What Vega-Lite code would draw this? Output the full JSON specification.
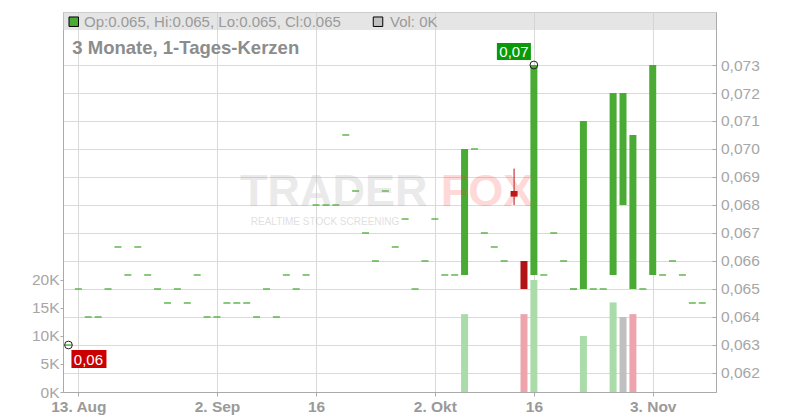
{
  "$schema": "https://vega.github.io/schema/vega-lite/v6.json",
  "width": 653,
  "height": 380,
  "autosize": {"type": "none"},
  "padding": {"left": 63, "top": 12, "right": 84, "bottom": 28},
  "background": "#ffffff",
  "config": {"view": {"stroke": "#c8c8c8"}, "font": "Liberation Sans", "scale": {"continuousPadding": 0}},
  "datasets": {
    "candles": [
      {"d":"2025-08-12","i":0,"o":0.063,"h":0.063,"l":0.063,"c":0.063,"v":0},
      {"d":"2025-08-13","i":1,"o":0.065,"h":0.065,"l":0.065,"c":0.065,"v":0},
      {"d":"2025-08-14","i":2,"o":0.064,"h":0.064,"l":0.064,"c":0.064,"v":0},
      {"d":"2025-08-15","i":3,"o":0.064,"h":0.064,"l":0.064,"c":0.064,"v":0},
      {"d":"2025-08-18","i":4,"o":0.065,"h":0.065,"l":0.065,"c":0.065,"v":0},
      {"d":"2025-08-19","i":5,"o":0.0665,"h":0.0665,"l":0.0665,"c":0.0665,"v":0},
      {"d":"2025-08-20","i":6,"o":0.0655,"h":0.0655,"l":0.0655,"c":0.0655,"v":0},
      {"d":"2025-08-21","i":7,"o":0.0665,"h":0.0665,"l":0.0665,"c":0.0665,"v":0},
      {"d":"2025-08-22","i":8,"o":0.0655,"h":0.0655,"l":0.0655,"c":0.0655,"v":0},
      {"d":"2025-08-25","i":9,"o":0.065,"h":0.065,"l":0.065,"c":0.065,"v":0},
      {"d":"2025-08-26","i":10,"o":0.0645,"h":0.0645,"l":0.0645,"c":0.0645,"v":0},
      {"d":"2025-08-27","i":11,"o":0.065,"h":0.065,"l":0.065,"c":0.065,"v":0},
      {"d":"2025-08-28","i":12,"o":0.0645,"h":0.0645,"l":0.0645,"c":0.0645,"v":0},
      {"d":"2025-08-29","i":13,"o":0.0655,"h":0.0655,"l":0.0655,"c":0.0655,"v":0},
      {"d":"2025-09-01","i":14,"o":0.064,"h":0.064,"l":0.064,"c":0.064,"v":0},
      {"d":"2025-09-02","i":15,"o":0.064,"h":0.064,"l":0.064,"c":0.064,"v":0},
      {"d":"2025-09-03","i":16,"o":0.0645,"h":0.0645,"l":0.0645,"c":0.0645,"v":0},
      {"d":"2025-09-04","i":17,"o":0.0645,"h":0.0645,"l":0.0645,"c":0.0645,"v":0},
      {"d":"2025-09-05","i":18,"o":0.0645,"h":0.0645,"l":0.0645,"c":0.0645,"v":0},
      {"d":"2025-09-08","i":19,"o":0.064,"h":0.064,"l":0.064,"c":0.064,"v":0},
      {"d":"2025-09-09","i":20,"o":0.065,"h":0.065,"l":0.065,"c":0.065,"v":0},
      {"d":"2025-09-10","i":21,"o":0.064,"h":0.064,"l":0.064,"c":0.064,"v":0},
      {"d":"2025-09-11","i":22,"o":0.0655,"h":0.0655,"l":0.0655,"c":0.0655,"v":0},
      {"d":"2025-09-12","i":23,"o":0.065,"h":0.065,"l":0.065,"c":0.065,"v":0},
      {"d":"2025-09-15","i":24,"o":0.0655,"h":0.0655,"l":0.0655,"c":0.0655,"v":0},
      {"d":"2025-09-16","i":25,"o":0.068,"h":0.068,"l":0.068,"c":0.068,"v":0},
      {"d":"2025-09-17","i":26,"o":0.068,"h":0.068,"l":0.068,"c":0.068,"v":0},
      {"d":"2025-09-18","i":27,"o":0.068,"h":0.068,"l":0.068,"c":0.068,"v":0},
      {"d":"2025-09-19","i":28,"o":0.0705,"h":0.0705,"l":0.0705,"c":0.0705,"v":0},
      {"d":"2025-09-22","i":29,"o":0.0685,"h":0.0685,"l":0.0685,"c":0.0685,"v":0},
      {"d":"2025-09-23","i":30,"o":0.067,"h":0.067,"l":0.067,"c":0.067,"v":0},
      {"d":"2025-09-24","i":31,"o":0.066,"h":0.066,"l":0.066,"c":0.066,"v":0},
      {"d":"2025-09-25","i":32,"o":0.0685,"h":0.0685,"l":0.0685,"c":0.0685,"v":0},
      {"d":"2025-09-26","i":33,"o":0.0665,"h":0.0665,"l":0.0665,"c":0.0665,"v":0},
      {"d":"2025-09-29","i":34,"o":0.0675,"h":0.0675,"l":0.0675,"c":0.0675,"v":0},
      {"d":"2025-09-30","i":35,"o":0.065,"h":0.065,"l":0.065,"c":0.065,"v":0},
      {"d":"2025-10-01","i":36,"o":0.066,"h":0.066,"l":0.066,"c":0.066,"v":0},
      {"d":"2025-10-02","i":37,"o":0.0675,"h":0.0675,"l":0.0675,"c":0.0675,"v":0},
      {"d":"2025-10-03","i":38,"o":0.0655,"h":0.0655,"l":0.0655,"c":0.0655,"v":0},
      {"d":"2025-10-06","i":39,"o":0.0655,"h":0.0655,"l":0.0655,"c":0.0655,"v":0},
      {"d":"2025-10-07","i":40,"o":0.0655,"h":0.07,"l":0.0655,"c":0.07,"v":13900},
      {"d":"2025-10-08","i":41,"o":0.07,"h":0.07,"l":0.07,"c":0.07,"v":0},
      {"d":"2025-10-09","i":42,"o":0.067,"h":0.067,"l":0.067,"c":0.067,"v":0},
      {"d":"2025-10-10","i":43,"o":0.0665,"h":0.0665,"l":0.0665,"c":0.0665,"v":0},
      {"d":"2025-10-13","i":44,"o":0.066,"h":0.066,"l":0.066,"c":0.066,"v":0},
      {"d":"2025-10-14","i":45,"o":0.0685,"h":0.0693,"l":0.068,"c":0.0683,"v":0},
      {"d":"2025-10-15","i":46,"o":0.066,"h":0.066,"l":0.065,"c":0.065,"v":13900},
      {"d":"2025-10-16","i":47,"o":0.0655,"h":0.073,"l":0.0655,"c":0.073,"v":20000},
      {"d":"2025-10-17","i":48,"o":0.0655,"h":0.0655,"l":0.0655,"c":0.0655,"v":0},
      {"d":"2025-10-20","i":49,"o":0.067,"h":0.067,"l":0.067,"c":0.067,"v":0},
      {"d":"2025-10-21","i":50,"o":0.066,"h":0.066,"l":0.066,"c":0.066,"v":0},
      {"d":"2025-10-22","i":51,"o":0.065,"h":0.065,"l":0.065,"c":0.065,"v":0},
      {"d":"2025-10-23","i":52,"o":0.065,"h":0.071,"l":0.065,"c":0.071,"v":10000},
      {"d":"2025-10-24","i":53,"o":0.065,"h":0.065,"l":0.065,"c":0.065,"v":0},
      {"d":"2025-10-27","i":54,"o":0.065,"h":0.065,"l":0.065,"c":0.065,"v":0},
      {"d":"2025-10-28","i":55,"o":0.0655,"h":0.072,"l":0.0655,"c":0.072,"v":16000},
      {"d":"2025-10-29","i":56,"o":0.068,"h":0.072,"l":0.068,"c":0.072,"v":13400},
      {"d":"2025-10-30","i":57,"o":0.065,"h":0.0705,"l":0.065,"c":0.0705,"v":13900},
      {"d":"2025-10-31","i":58,"o":0.065,"h":0.065,"l":0.065,"c":0.065,"v":0},
      {"d":"2025-11-03","i":59,"o":0.0655,"h":0.073,"l":0.0655,"c":0.073,"v":0},
      {"d":"2025-11-04","i":60,"o":0.0655,"h":0.0655,"l":0.0655,"c":0.0655,"v":0},
      {"d":"2025-11-05","i":61,"o":0.066,"h":0.066,"l":0.066,"c":0.066,"v":0},
      {"d":"2025-11-06","i":62,"o":0.0655,"h":0.0655,"l":0.0655,"c":0.0655,"v":0},
      {"d":"2025-11-07","i":63,"o":0.0645,"h":0.0645,"l":0.0645,"c":0.0645,"v":0},
      {"d":"2025-11-10","i":64,"o":0.0645,"h":0.0645,"l":0.0645,"c":0.0645,"v":0}
    ],
    "extremes": [
      {"i":47,"p":0.073,"t":"0,07","k":"max"},
      {"i":0,"p":0.063,"t":"0,06","k":"min"}
    ]
  },
  "data": {"name": "candles"},
  "layer": [
    {
      "transform": [
        {"window": [{"op": "lag", "field": "c", "as": "pc"}], "sort": [{"field": "i"}]},
        {"filter": "datum.v > 0"}
      ],
      "mark": {"type": "bar", "orient": "vertical", "size": 7},
      "encoding": {
        "x": {"field": "i", "type": "quantitative", "scale": {"domain": [-0.55, 65.39], "nice": false, "zero": false, "padding": 0},
          "axis": {"values": [1, 15, 25, 37, 47, 59],
            "labelExpr": "datum.value == 1 ? '13. Aug' : datum.value == 15 ? '2. Sep' : datum.value == 25 ? '16' : datum.value == 37 ? '2. Okt' : datum.value == 47 ? '16' : '3. Nov'",
            "grid": true, "gridColor": "#dadada", "domainColor": "#aaaaaa", "tickColor": "#aaaaaa", "tickSize": 4,
            "labelFont": "Liberation Sans", "labelFontSize": 15.5, "labelFontWeight": "bold", "labelColor": "#9a9a9a",
            "labelPadding": 3, "labelFlush": false, "labelOverlap": false, "title": null}},
        "y": {"field": "v", "type": "quantitative", "scale": {"domain": [0, 67857], "nice": false, "padding": 0},
          "axis": {"orient": "left", "values": [0, 5000, 10000, 15000, 20000],
            "labelExpr": "format(datum.value / 1000, 'd') + 'K'",
            "grid": false, "domainColor": "#aaaaaa", "tickColor": "#aaaaaa", "tickSize": 3,
            "labelFont": "Liberation Sans", "labelFontSize": 15.5, "labelColor": "#a6a6a6",
            "labelPadding": 1, "labelFlush": false, "labelOverlap": false, "title": null}},
        "color": {"condition": [{"test": "datum.c > datum.pc", "value": "#aadcaa"}, {"test": "datum.c < datum.pc", "value": "#eea4ac"}], "value": "#c0c0c0"}
      }
    },
    {
      "encoding": {
        "x": {"field": "i", "type": "quantitative", "scale": {"domain": [-0.55, 65.39], "nice": false, "zero": false, "padding": 0},
          "axis": {"values": [1, 15, 25, 37, 47, 59],
            "labelExpr": "datum.value == 1 ? '13. Aug' : datum.value == 15 ? '2. Sep' : datum.value == 25 ? '16' : datum.value == 37 ? '2. Okt' : datum.value == 47 ? '16' : '3. Nov'",
            "grid": true, "gridColor": "#dadada", "domainColor": "#aaaaaa", "tickColor": "#aaaaaa", "tickSize": 4,
            "labelFont": "Liberation Sans", "labelFontSize": 15.5, "labelFontWeight": "bold", "labelColor": "#9a9a9a",
            "labelPadding": 3, "labelFlush": false, "labelOverlap": false, "title": null}}
      },
      "layer": [
        {
          "transform": [{"filter": "datum.o != datum.c"}],
          "mark": {"type": "bar", "orient": "vertical", "size": 7},
          "encoding": {
            "y": {"field": "o", "type": "quantitative", "scale": {"domain": [0.061321, 0.074893], "nice": false, "zero": false, "padding": 0},
              "axis": {"orient": "right", "values": [0.062, 0.063, 0.064, 0.065, 0.066, 0.067, 0.068, 0.069, 0.07, 0.071, 0.072, 0.073],
                "labelExpr": "replace(format(datum.value, '.3f'), '.', ',')",
                "grid": true, "gridColor": "#dadada", "domainColor": "#aaaaaa", "tickColor": "#aaaaaa", "tickSize": -4,
                "labelFont": "Liberation Sans", "labelFontSize": 15.5, "labelColor": "#a6a6a6",
                "labelPadding": 8.5, "labelFlush": false, "labelOverlap": false, "title": null}},
            "y2": {"field": "c"},
            "color": {"condition": {"test": "datum.c < datum.o", "value": "#b21416"}, "value": "#4aab34"}
          }
        },
        {
          "transform": [{"filter": "datum.h != datum.l"}],
          "mark": {"type": "rule", "strokeWidth": 1},
          "encoding": {
            "y": {"field": "l", "type": "quantitative", "scale": {"domain": [0.061321, 0.074893], "nice": false, "zero": false, "padding": 0},
              "axis": {"orient": "right", "values": [0.062, 0.063, 0.064, 0.065, 0.066, 0.067, 0.068, 0.069, 0.07, 0.071, 0.072, 0.073],
                "labelExpr": "replace(format(datum.value, '.3f'), '.', ',')",
                "grid": true, "gridColor": "#dadada", "domainColor": "#aaaaaa", "tickColor": "#aaaaaa", "tickSize": -4,
                "labelFont": "Liberation Sans", "labelFontSize": 15.5, "labelColor": "#a6a6a6",
                "labelPadding": 8.5, "labelFlush": false, "labelOverlap": false, "title": null}},
            "y2": {"field": "h"},
            "color": {"condition": {"test": "datum.c < datum.o", "value": "#b21416"}, "value": "#4aab34"}
          }
        },
        {
          "transform": [{"filter": "datum.o == datum.c"}],
          "mark": {"type": "tick", "orient": "horizontal", "size": 7, "thickness": 1.3, "color": "#4aab34", "opacity": 1},
          "encoding": {
            "y": {"field": "c", "type": "quantitative", "scale": {"domain": [0.061321, 0.074893], "nice": false, "zero": false, "padding": 0},
              "axis": {"orient": "right", "values": [0.062, 0.063, 0.064, 0.065, 0.066, 0.067, 0.068, 0.069, 0.07, 0.071, 0.072, 0.073],
                "labelExpr": "replace(format(datum.value, '.3f'), '.', ',')",
                "grid": true, "gridColor": "#dadada", "domainColor": "#aaaaaa", "tickColor": "#aaaaaa", "tickSize": -4,
                "labelFont": "Liberation Sans", "labelFontSize": 15.5, "labelColor": "#a6a6a6",
                "labelPadding": 8.5, "labelFlush": false, "labelOverlap": false, "title": null}}
          }
        },
        {
          "data": {"name": "extremes"},
          "mark": {"type": "point", "shape": "circle", "filled": false, "stroke": "#222222", "strokeWidth": 1, "size": 60, "opacity": 1},
          "encoding": {
            "y": {"field": "p", "type": "quantitative", "scale": {"domain": [0.061321, 0.074893], "nice": false, "zero": false, "padding": 0},
              "axis": {"orient": "right", "values": [0.062, 0.063, 0.064, 0.065, 0.066, 0.067, 0.068, 0.069, 0.07, 0.071, 0.072, 0.073],
                "labelExpr": "replace(format(datum.value, '.3f'), '.', ',')",
                "grid": true, "gridColor": "#dadada", "domainColor": "#aaaaaa", "tickColor": "#aaaaaa", "tickSize": -4,
                "labelFont": "Liberation Sans", "labelFontSize": 15.5, "labelColor": "#a6a6a6",
                "labelPadding": 8.5, "labelFlush": false, "labelOverlap": false, "title": null}}
          }
        },
        {
          "data": {"name": "extremes"},
          "transform": [{"filter": "datum.k == 'max'"}],
          "mark": {"type": "rect", "fill": "#089a08", "xOffset": -37, "x2Offset": -3, "yOffset": -22, "y2Offset": -5},
          "encoding": {
            "x2": {"field": "i"},
            "y": {"field": "p", "type": "quantitative", "scale": {"domain": [0.061321, 0.074893], "nice": false, "zero": false, "padding": 0},
              "axis": {"orient": "right", "values": [0.062, 0.063, 0.064, 0.065, 0.066, 0.067, 0.068, 0.069, 0.07, 0.071, 0.072, 0.073],
                "labelExpr": "replace(format(datum.value, '.3f'), '.', ',')",
                "grid": true, "gridColor": "#dadada", "domainColor": "#aaaaaa", "tickColor": "#aaaaaa", "tickSize": -4,
                "labelFont": "Liberation Sans", "labelFontSize": 15.5, "labelColor": "#a6a6a6",
                "labelPadding": 8.5, "labelFlush": false, "labelOverlap": false, "title": null}},
            "y2": {"field": "p"}
          }
        },
        {
          "data": {"name": "extremes"},
          "transform": [{"filter": "datum.k == 'min'"}],
          "mark": {"type": "rect", "fill": "#cc0000", "xOffset": 3, "x2Offset": 38, "yOffset": 5, "y2Offset": 23},
          "encoding": {
            "x2": {"field": "i"},
            "y": {"field": "p", "type": "quantitative", "scale": {"domain": [0.061321, 0.074893], "nice": false, "zero": false, "padding": 0},
              "axis": {"orient": "right", "values": [0.062, 0.063, 0.064, 0.065, 0.066, 0.067, 0.068, 0.069, 0.07, 0.071, 0.072, 0.073],
                "labelExpr": "replace(format(datum.value, '.3f'), '.', ',')",
                "grid": true, "gridColor": "#dadada", "domainColor": "#aaaaaa", "tickColor": "#aaaaaa", "tickSize": -4,
                "labelFont": "Liberation Sans", "labelFontSize": 15.5, "labelColor": "#a6a6a6",
                "labelPadding": 8.5, "labelFlush": false, "labelOverlap": false, "title": null}},
            "y2": {"field": "p"}
          }
        },
        {
          "data": {"name": "extremes"},
          "transform": [{"filter": "datum.k == 'max'"}],
          "mark": {"type": "text", "align": "center", "baseline": "alphabetic", "dx": -20, "dy": -8, "font": "Liberation Sans", "fontSize": 15, "fill": "#ffffff"},
          "encoding": {
            "y": {"field": "p", "type": "quantitative", "scale": {"domain": [0.061321, 0.074893], "nice": false, "zero": false, "padding": 0},
              "axis": {"orient": "right", "values": [0.062, 0.063, 0.064, 0.065, 0.066, 0.067, 0.068, 0.069, 0.07, 0.071, 0.072, 0.073],
                "labelExpr": "replace(format(datum.value, '.3f'), '.', ',')",
                "grid": true, "gridColor": "#dadada", "domainColor": "#aaaaaa", "tickColor": "#aaaaaa", "tickSize": -4,
                "labelFont": "Liberation Sans", "labelFontSize": 15.5, "labelColor": "#a6a6a6",
                "labelPadding": 8.5, "labelFlush": false, "labelOverlap": false, "title": null}},
            "text": {"field": "t"}
          }
        },
        {
          "data": {"name": "extremes"},
          "transform": [{"filter": "datum.k == 'min'"}],
          "mark": {"type": "text", "align": "center", "baseline": "alphabetic", "dx": 20, "dy": 20, "font": "Liberation Sans", "fontSize": 15, "fill": "#ffffff"},
          "encoding": {
            "y": {"field": "p", "type": "quantitative", "scale": {"domain": [0.061321, 0.074893], "nice": false, "zero": false, "padding": 0},
              "axis": {"orient": "right", "values": [0.062, 0.063, 0.064, 0.065, 0.066, 0.067, 0.068, 0.069, 0.07, 0.071, 0.072, 0.073],
                "labelExpr": "replace(format(datum.value, '.3f'), '.', ',')",
                "grid": true, "gridColor": "#dadada", "domainColor": "#aaaaaa", "tickColor": "#aaaaaa", "tickSize": -4,
                "labelFont": "Liberation Sans", "labelFontSize": 15.5, "labelColor": "#a6a6a6",
                "labelPadding": 8.5, "labelFlush": false, "labelOverlap": false, "title": null}},
            "text": {"field": "t"}
          }
        }
      ]
    },
    {
      "data": {"values": [
        {"t": "hdr"}
      ]},
      "layer": [
        {
          "mark": {"type": "rect", "fill": "#cfcfcf", "opacity": 0.55},
          "encoding": {
            "x": {"datum": -0.55, "type": "quantitative", "scale": {"domain": [-0.55, 65.39], "nice": false, "zero": false, "padding": 0}},
            "x2": {"datum": 65.39},
            "y": {"datum": 0.074893, "type": "quantitative", "scale": {"domain": [0.061321, 0.074893], "nice": false, "zero": false, "padding": 0}, "axis": null},
            "y2": {"datum": 0.07425}
          }
        },
        {
          "mark": {"type": "point", "shape": "square", "filled": true, "fill": "#4aab34", "stroke": "#000000", "strokeWidth": 1, "size": 90, "opacity": 1},
          "encoding": {
            "x": {"datum": 0.535, "type": "quantitative"},
            "y": {"datum": 0.074546, "type": "quantitative", "axis": null}
          }
        },
        {
          "mark": {"type": "point", "shape": "square", "filled": true, "fill": "#c0c0c0", "stroke": "#000000", "strokeWidth": 1, "size": 90, "opacity": 1},
          "encoding": {
            "x": {"datum": 31.26, "type": "quantitative"},
            "y": {"datum": 0.074546, "type": "quantitative", "axis": null}
          }
        },
        {
          "mark": {"type": "text", "text": "Op:0.065, Hi:0.065, Lo:0.065, Cl:0.065", "align": "left", "baseline": "alphabetic", "font": "Liberation Sans", "fontSize": 15, "fill": "#9a9a9a"},
          "encoding": {
            "x": {"datum": 1.575, "type": "quantitative"},
            "y": {"datum": 0.074346, "type": "quantitative", "axis": null}
          }
        },
        {
          "mark": {"type": "text", "text": "Vol: 0K", "align": "left", "baseline": "alphabetic", "font": "Liberation Sans", "fontSize": 15, "fill": "#9a9a9a"},
          "encoding": {
            "x": {"datum": 32.47, "type": "quantitative"},
            "y": {"datum": 0.074346, "type": "quantitative", "axis": null}
          }
        },
        {
          "mark": {"type": "text", "text": "3 Monate, 1-Tages-Kerzen", "align": "left", "baseline": "alphabetic", "font": "Liberation Sans", "fontSize": 18.5, "fontWeight": "bold", "fill": "#8c8c8c"},
          "encoding": {
            "x": {"datum": 0.394, "type": "quantitative"},
            "y": {"datum": 0.073393, "type": "quantitative", "axis": null}
          }
        },
        {
          "mark": {"type": "text", "text": "TRADER", "align": "left", "baseline": "alphabetic", "font": "Liberation Sans", "fontSize": 45, "fontWeight": "bold", "fill": "#9a9a9a", "opacity": 0.2},
          "encoding": {
            "x": {"datum": 17.33, "type": "quantitative"},
            "y": {"datum": 0.067964, "type": "quantitative", "axis": null}
          }
        },
        {
          "mark": {"type": "text", "text": "FOX", "align": "left", "baseline": "alphabetic", "font": "Liberation Sans", "fontSize": 45, "fontWeight": "bold", "fill": "#ff3030", "opacity": 0.18},
          "encoding": {
            "x": {"datum": 37.6, "type": "quantitative"},
            "y": {"datum": 0.067964, "type": "quantitative", "axis": null}
          }
        },
        {
          "mark": {"type": "text", "text": "REALTIME STOCK SCREENING", "align": "left", "baseline": "alphabetic", "font": "Liberation Sans", "fontSize": 10, "fill": "#999999", "opacity": 0.3},
          "encoding": {
            "x": {"datum": 18.41, "type": "quantitative"},
            "y": {"datum": 0.067268, "type": "quantitative", "axis": null}
          }
        }
      ]
    }
  ],
  "resolve": {"scale": {"y": "independent"}}
}
